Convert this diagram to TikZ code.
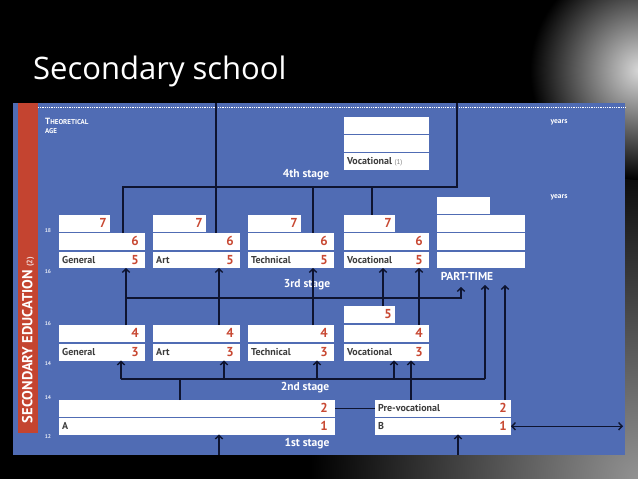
\documentclass[tikz,border=0pt]{standalone}
\usepackage{fontspec}
\setmainfont{PT Sans}
\newfontfamily\titlefont{Open Sans}
\usetikzlibrary{arrows.meta}
\definecolor{panel}{RGB}{80,108,180}
\definecolor{redbar}{RGB}{196,68,48}
\definecolor{numred}{RGB}{200,72,50}
\definecolor{linec}{RGB}{14,20,48}
\definecolor{boxtext}{RGB}{60,60,60}
\newcommand\bx[7]{%
  \node[bx,minimum width=#4pt] (#1) at (#2,#3) {};
  \node[lbl] at ([xshift=3pt]#1.west) {#5};
  \node[num] at ([xshift=-#7pt]#1.east) {#6};}
\newcommand\ebx[4]{\node[bx,minimum width=#4pt] (#1) at (#2,#3) {};}
\begin{document}
\begin{tikzpicture}[x=1pt,y=-1pt,
  bx/.style={draw=none,fill=white,minimum height=16.5pt,inner sep=0pt,outer sep=0pt,anchor=north west},
  lbl/.style={font=\bfseries\fontsize{10}{11}\selectfont,text=boxtext,inner sep=0pt,anchor=west},
  num/.style={font=\bfseries\fontsize{13}{13}\selectfont,text=numred,inner sep=0pt,anchor=east},
  ln/.style={draw=linec,line width=1.4pt},
  tip/.tip={Straight Barb[length=3.5pt,width=7.5pt]},
  arr/.style={ln,-tip},
  stagel/.style={font=\bfseries\fontsize{11.5}{12}\selectfont,text=white,inner sep=0pt},
  agel/.style={font=\bfseries\fontsize{5.5}{6}\selectfont,text=white!85!panel,inner sep=0pt},
  yrs/.style={font=\bfseries\fontsize{7.5}{8}\selectfont,text=white,inner sep=0pt}]
\useasboundingbox (0,0) rectangle (638,479);
% background
\fill[black] (0,0) rectangle (638,479);
\begin{scope}
\clip (0,0) rectangle (638,479);
\shade[inner color=gray!85, outer color=black] (640,479) circle (330pt);
\shade[inner color=gray!30, outer color=black] (640,70) circle (110pt);
\end{scope}
\node[font=\titlefont\fontsize{31}{31}\selectfont,text=white,anchor=base west,inner sep=0pt] (title) at (33,79) {Secondary school};
% panel
\fill[panel] (13,103) rectangle (625,455);
\fill[redbar] (18,103) rectangle (38,433);
\draw[white,line width=0.7pt,dash pattern=on 0.9pt off 0.9pt] (38,107) -- (625,107);
\node[rotate=90,font=\bfseries\fontsize{14.5}{15}\selectfont,text=white,inner sep=0pt] (side) at (28,340) {SECONDARY EDUCATION {\fontsize{8}{8}\selectfont\color{white!80!redbar}(2)}};
\node[anchor=north west,align=left,inner sep=0pt,text=white,font=\bfseries\fontsize{7}{9}\selectfont] (theo) at (45,118) {{\fontsize{9}{9}\selectfont T}HEORETICAL\\AGE};
% ages
\node[agel] (a18) at (48,231) {18};
\node[agel] (a16a) at (48,272) {16};
\node[agel] (a16b) at (48,324) {16};
\node[agel] (a14a) at (48,364) {14};
\node[agel] (a14b) at (48,398) {14};
\node[agel] (a12) at (48,437) {12};
\node[yrs] (y1) at (559,122) {years};
\node[yrs] (y2) at (559,197) {years};
% 4th stage
\ebx{f1}{344}{117}{85}
\ebx{f2}{344}{135}{85}
\bx{f3}{344}{153}{85}{Vocational {\mdseries\fontsize{7}{7}\selectfont\color{gray}(1)}}{}{6}
% 3rd stage
\bx{g7}{59}{215}{51}{}{7}{3}
\bx{g6}{59}{233}{86}{}{6}{6}
\bx{g5}{59}{251.5}{86}{General}{5}{6}
\bx{a7}{153}{215}{53}{}{7}{3}
\bx{a6}{153}{233}{87}{}{6}{6}
\bx{a5}{153}{251.5}{87}{Art}{5}{6}
\bx{t7}{248}{215}{53}{}{7}{3}
\bx{t6}{248}{233}{86}{}{6}{6}
\bx{t5}{248}{251.5}{86}{Technical}{5}{6}
\bx{v7}{344}{215}{51}{}{7}{3}
\bx{v6}{344}{233}{85}{}{6}{6}
\bx{v5}{344}{251.5}{85}{Vocational}{5}{6}
\ebx{p0}{437}{197}{53}
\ebx{p1}{437}{215}{88}
\ebx{p2}{437}{233}{88}
\ebx{p3}{437}{251.5}{88}
% 2nd stage
\bx{v5s}{344}{306}{51}{}{5}{3}
\bx{g4}{59}{325}{86}{}{4}{6}
\bx{g3}{59}{344}{86}{General}{3}{6}
\bx{a4}{153}{325}{87}{}{4}{6}
\bx{a3}{153}{344}{87}{Art}{3}{6}
\bx{t4}{248}{325}{86}{}{4}{6}
\bx{t3}{248}{344}{86}{Technical}{3}{6}
\bx{v4}{344}{325}{85}{}{4}{6}
\bx{v3}{344}{344}{85}{Vocational}{3}{6}
% 1st stage
\bx{A2}{59}{400}{276}{}{2}{7}
\bx{A1}{59}{418}{276}{A}{1}{7}
\bx{B2}{375}{400}{136}{Pre-vocational}{2}{4}
\bx{B1}{375}{418}{136}{B}{1}{4}
% stage labels
\node[stagel] (s4) at (306,175) {4th stage};
\node[stagel] (s3) at (307,285) {3rd stage};
\node[stagel] (s2) at (305,388) {2nd stage};
\node[stagel] (s1) at (307,444) {1st stage};
\node[font=\bfseries\fontsize{11.5}{12}\selectfont,text=white,inner sep=0pt] (ptl) at (467,276) {PART-TIME};
% top connectors
\coordinate (pt1) at (216,103);
\coordinate (pt2) at (457,103);
\coordinate (j1) at (123,187);
\coordinate (j2) at (457,187);
\coordinate (j3) at (313,187);
\coordinate (j4) at (372,187);
\draw[ln] (pt1) -- (pt1 |- a6.north);
\draw[ln] (j1 |- g6.north) -- (j1) -- (j2) -- (pt2);
\draw[ln] (j3) -- (j3 |- t6.north);
\draw[ln] (j4) -- (j4 |- v7.north);
% 2nd -> 3rd stage
\coordinate (k1) at (126,298);
\coordinate (k2) at (219,298);
\coordinate (k3) at (313,298);
\coordinate (k4) at (383,298);
\coordinate (k5) at (419,298);
\coordinate (k6) at (461,298);
\coordinate (ptA) at (461,287);
\draw[arr] (k1 |- g4.north) -- (k1 |- g5.south);
\draw[arr] (k2 |- a4.north) -- (k2 |- a5.south);
\draw[arr] (k3 |- t4.north) -- (k3 |- t5.south);
\draw[arr] (k4 |- v5s.north) -- (k4 |- v5.south);
\draw[arr] (k5 |- v4.north) -- (k5 |- v5.south);
\draw[arr] (k1) -- (k6) -- (ptA);
% 1st -> 2nd stage
\coordinate (m0) at (180,379);
\coordinate (m1) at (121,379);
\coordinate (m2) at (224,379);
\coordinate (m3) at (317,379);
\coordinate (m4) at (394,379);
\coordinate (m5) at (485,379);
\coordinate (ptB) at (485,285);
\draw[ln] (m0 |- A2.north) -- (m0);
\draw[ln] (m1) -- (m5);
\draw[arr] (m1) -- (m1 |- g3.south);
\draw[arr] (m2) -- (m2 |- a3.south);
\draw[arr] (m3) -- (m3 |- t3.south);
\draw[arr] (m4) -- (m4 |- v3.south);
\draw[arr] (m5) -- (ptB);
\coordinate (n1) at (411,379);
\coordinate (n2) at (505,285);
\draw[arr] (n1 |- B2.north) -- (n1 |- v3.south);
\draw[arr] (n2 |- B2.north) -- (n2);
\draw[ln] (A2.east) -- (B2.west);
\coordinate (rr) at (623,426);
\draw[ln,tip-tip] (B1.east) -- (rr |- B1.east);
\coordinate (b1) at (219,455);
\coordinate (b2) at (458,455);
\draw[arr] (b1) -- (b1 |- A1.south);
\draw[arr] (b2) -- (b2 |- B1.south);
\end{tikzpicture}
\end{document}
